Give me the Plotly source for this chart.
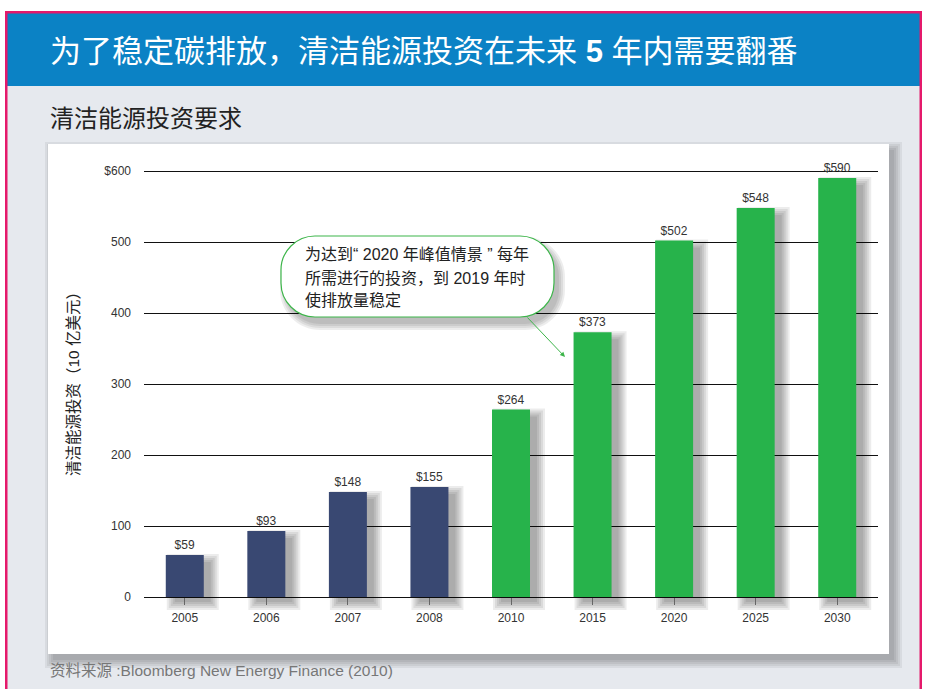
import plotly.graph_objects as go

# ---------------- data ----------------
years = ["2005", "2006", "2007", "2008", "2010", "2015", "2020", "2025", "2030"]
investment = [59, 93, 148, 155, 264, 373, 502, 548, 590]
n_historical = 4  # 2005-2008 actual, rest projected
y_tickvals = [0, 100, 200, 300, 400, 500, 600]
y_ticktext = ["0", "100", "200", "300", "400", "500", "$600"]

title_text = "为了稳定碳排放，清洁能源投资在未来 <b>5</b> 年内需要翻番"
subtitle_text = "清洁能源投资要求"
ytitle_text = "清洁能源投资（10 亿美元）"
source_text = "资料来源 :Bloomberg New Energy Finance (2010)"
callout_lines = ["为达到“ 2020 年峰值情景 ” 每年", "所需进行的投资，到 2019 年时", "使排放量稳定"]

# ---------------- style ----------------
W, H = 925, 689
NAVY = "#394872"
GREEN = "#27B34B"
PINK = "#E5196B"
BLUE = "#0B82C5"
BG = "#E6E9EE"
FONT = "Liberation Sans, 'Noto Sans CJK SC', sans-serif"

Y0_PX, Y600_PX = 597, 171
PPU = (Y0_PX - Y600_PX) / 600.0
YMIN, YMAX = -20, 615
PLOT_BOTTOM = Y0_PX - YMIN * PPU
PLOT_TOP = Y0_PX - YMAX * PPU
X_L, X_R = 144, 878
CAT_PX = (X_R - X_L) / len(years)
BW = 38 / CAT_PX


def px(x):
    return x / W


def py(y):
    return 1 - y / H


def rect(x0, y0, x1, y1, color, layer="below", line=None):
    d = dict(type="rect", xref="paper", yref="paper", x0=px(x0), x1=px(x1),
             y0=py(y1), y1=py(y0), fillcolor=color, layer=layer,
             line=dict(width=0) if line is None else line)
    return d


def rounded_path(x0, y0, x1, y1, r):
    k = 0.5523 * r

    def P(x, y):
        return f"{px(x):.5f},{py(y):.5f}"

    s = f"M{P(x0 + r, y0)} L{P(x1 - r, y0)} "
    s += f"C{P(x1 - r + k, y0)} {P(x1, y0 + r - k)} {P(x1, y0 + r)} "
    s += f"L{P(x1, y1 - r)} "
    s += f"C{P(x1, y1 - r + k)} {P(x1 - r + k, y1)} {P(x1 - r, y1)} "
    s += f"L{P(x0 + r, y1)} "
    s += f"C{P(x0 + r - k, y1)} {P(x0, y1 - r + k)} {P(x0, y1 - r)} "
    s += f"L{P(x0, y0 + r)} "
    s += f"C{P(x0, y0 + r - k)} {P(x0 + r - k, y0)} {P(x0 + r, y0)} Z"
    return s


shapes = []
# frame, header, body
shapes.append(rect(5, 11, 922, 700, PINK))
shapes.append(rect(7.5, 13.5, 919.5, 86, BLUE))
shapes.append(rect(7.5, 86, 919.5, 700, BG))
# panel shadow
for e in [0, 2, 4, 6, 8]:
    shapes.append(rect(48 + 5 - e, 144 + 6 - e, 889 + 5 + e, 654 + 6 + e, "rgba(0,0,0,0.06)"))
shapes.append(rect(48, 144, 889, 654, "white"))

# callout shadow and bubble
CX0, CY0, CX1, CY1, CR = 281, 236, 554, 317, 34
for e in [0, 2, 4, 6]:
    shapes.append(dict(type="path", xref="paper", yref="paper", layer="above",
                       path=rounded_path(CX0 + 5 - e, CY0 + 7 - e, CX1 + 5 + e, CY1 + 7 + e, CR + e),
                       fillcolor="rgba(0,0,0,0.07)", line=dict(width=0)))
shapes.append(dict(type="path", xref="paper", yref="paper", layer="above",
                   path=rounded_path(CX0, CY0, CX1, CY1, CR),
                   fillcolor="white", line=dict(color="#3DB54A", width=1.2)))

fig = go.Figure()

# bar shadows (blurred by layering)
DX, DY = 8, 6
for e in [-1, 1, 3, 5, 7]:
    fig.add_trace(go.Bar(
        x=years, y=[v + 2 * e / PPU for v in investment], base=-(DY + e) / PPU,
        width=BW + 2 * e / CAT_PX, offset=-BW / 2 + (DX - e) / CAT_PX,
        marker=dict(color="rgba(0,0,0,0.075)", line=dict(width=0)),
        hoverinfo="skip", showlegend=False))

colors = [NAVY if i < n_historical else GREEN for i in range(len(years))]
fig.add_trace(go.Bar(
    x=years, y=investment, width=BW, offset=-BW / 2,
    marker=dict(color=colors, line=dict(width=0)),
    text=investment, texttemplate="$%{y}", textposition="outside",
    textfont=dict(size=12, color="#333", family=FONT), cliponaxis=False,
    constraintext="none", showlegend=False))

annotations = [
    dict(text=title_text, x=px(48), y=py(51), xanchor="left", yanchor="middle",
         font=dict(size=31, color="white", family=FONT)),
    dict(text=subtitle_text, x=px(48), y=py(118), xanchor="left", yanchor="middle",
         font=dict(size=24, color="#222", family=FONT)),
    dict(text=source_text, x=px(48), y=py(670), xanchor="left", yanchor="middle",
         font=dict(size=15.5, color="#777", family=FONT)),
    dict(text=ytitle_text, x=px(73), y=py(380), xanchor="center", yanchor="middle",
         textangle=-90, font=dict(size=15.5, color="#222", family=FONT)),
]
for i, (line, yc) in enumerate(zip(callout_lines, [255, 278, 300])):
    annotations.append(dict(text=line, x=px(303), y=py(yc), xanchor="left", yanchor="middle",
                            font=dict(size=16, color="#222", family=FONT)))
annotations.append(dict(text="", x=px(565), y=py(357), ax=-39, ay=-41, showarrow=True,
                        arrowhead=2, arrowsize=1, arrowwidth=1, arrowcolor="#3DB54A",
                        standoff=0, startstandoff=0))
for a in annotations:
    a.setdefault("xref", "paper")
    a.setdefault("yref", "paper")
    a.setdefault("showarrow", False)

fig.update_layout(
    width=W, height=H, margin=dict(l=0, r=0, t=0, b=0),
    paper_bgcolor="white", plot_bgcolor="rgba(0,0,0,0)",
    barmode="overlay", shapes=shapes, annotations=annotations,
    font=dict(family=FONT),
    xaxis=dict(type="category", range=[-0.5, len(years) - 0.5],
               domain=[px(X_L), px(X_R)], anchor="free", position=py(Y0_PX),
               showgrid=False, showline=False, zeroline=False,
               ticks="outside", ticklen=7, tickcolor="#666", tickwidth=1,
               ticklabelstandoff=3,
               tickfont=dict(size=12, color="#333", family=FONT)),
    yaxis=dict(range=[YMIN, YMAX], domain=[py(PLOT_BOTTOM), py(PLOT_TOP)],
               tickvals=y_tickvals, ticktext=y_ticktext,
               showgrid=True, gridcolor="#111", gridwidth=1,
               zeroline=True, zerolinecolor="#111", zerolinewidth=1,
               showline=False, ticks="", ticklabelstandoff=12,
               tickfont=dict(size=12, color="#333", family=FONT)),
    hovermode=False,
)

fig.write_html("out.html", config={"displayModeBar": False},
               post_script="document.body.style.margin='0px';document.body.style.overflow='hidden';")
